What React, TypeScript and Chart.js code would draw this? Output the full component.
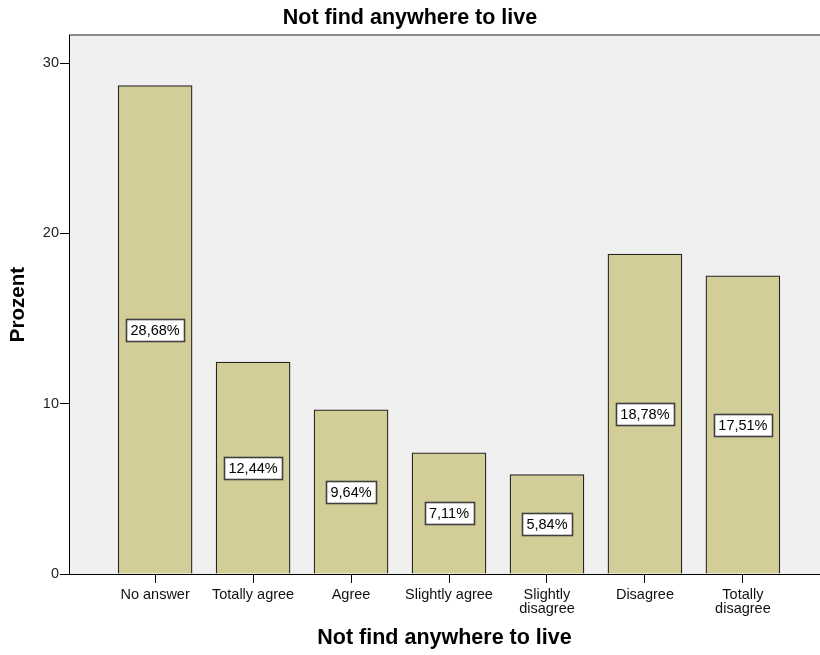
import React, { useEffect, useRef } from 'react';
import { Chart, registerables } from 'chart.js';

Chart.register(...registerables);

const chartTitle = 'Not find anywhere to live';
const xAxisTitle = 'Not find anywhere to live';
const yAxisTitle = 'Prozent';
const categories: string[][] = [
  ['No answer'],
  ['Totally agree'],
  ['Agree'],
  ['Slightly agree'],
  ['Slightly', 'disagree'],
  ['Disagree'],
  ['Totally', 'disagree'],
];
const percentValues = [28.68, 12.44, 9.64, 7.11, 5.84, 18.78, 17.51];
const valueLabels = ['28,68%', '12,44%', '9,64%', '7,11%', '5,84%', '18,78%', '17,51%'];
const yTickValues = [0, 10, 20, 30];

const FONT = '"Liberation Sans", Arial, sans-serif';

const plotBackground = {
  id: 'plotBackground',
  beforeDraw(chart: any) {
    const { ctx, chartArea: a } = chart;
    ctx.save();
    ctx.fillStyle = '#F0F0F0';
    ctx.fillRect(a.left, a.top, a.right - a.left, a.bottom - a.top);
    ctx.strokeStyle = '#8c8c8c';
    ctx.lineWidth = 2;
    ctx.beginPath();
    ctx.moveTo(a.left, a.top);
    ctx.lineTo(a.right, a.top);
    ctx.stroke();
    ctx.restore();
  },
};

const boxedLabels = {
  id: 'boxedLabels',
  afterDatasetsDraw(chart: any) {
    const { ctx } = chart;
    const meta = chart.getDatasetMeta(0);
    ctx.save();
    ctx.font = `14.5px ${FONT}`;
    ctx.textAlign = 'center';
    ctx.textBaseline = 'middle';
    meta.data.forEach((el: any, i: number) => {
      const { x, y, base } = el.getProps(['x', 'y', 'base'], true);
      const cy = (y + base) / 2;
      const text = valueLabels[i];
      const w = Math.round(ctx.measureText(text).width + 9);
      const h = 22;
      const left = Math.round(x - w / 2) + 0.5;
      const top = Math.round(cy - h / 2) + 0.5;
      ctx.fillStyle = '#FFFFFF';
      ctx.fillRect(left, top, w, h);
      ctx.strokeStyle = '#404040';
      ctx.lineWidth = 1.6;
      ctx.strokeRect(left, top, w, h);
      ctx.fillStyle = '#000000';
      ctx.fillText(text, x, top + h / 2 + 0.5);
    });
    ctx.restore();
  },
};

export default function App() {
  const canvasRef = useRef<HTMLCanvasElement | null>(null);

  useEffect(() => {
    document.body.style.margin = '0';
    const canvas = canvasRef.current;
    if (!canvas) return;
    const chart = new Chart(canvas, {
      type: 'bar',
      data: {
        datasets: [
          {
            data: percentValues.map((v, i) => ({ x: i, y: v })),
            backgroundColor: '#D3CE97',
            borderColor: '#262626',
            borderWidth: 1.3,
            barThickness: 74,
          } as any,
        ],
      },
      options: {
        responsive: false,
        animation: false,
        layout: { padding: 0 },
        plugins: {
          legend: { display: false },
          tooltip: { enabled: false },
          title: {
            display: true,
            text: chartTitle,
            color: '#000',
            font: { family: FONT, size: 21.5, weight: 'bold', lineHeight: 1.2 },
            padding: { top: 5.3, bottom: 4 },
          },
        },
        scales: {
          x: {
            type: 'linear',
            offset: false,
            min: -0.879,
            max: 6.787,
            afterBuildTicks: (axis: any) => {
              axis.ticks = categories.map((_, i) => ({ value: i }));
            },
            afterFit: (s: any) => {
              s.height = 81;
            },
            ticks: {
              autoSkip: false,
              maxRotation: 0,
              minRotation: 0,
              padding: 5,
              color: '#111',
              font: { family: FONT, size: 14.5, lineHeight: 0.97 },
              callback: (v: any) => categories[v as number] ?? '',
            },
            grid: { offset: false, drawOnChartArea: false, drawTicks: true, tickLength: 9, color: '#000' },
            border: { display: true, color: '#000', width: 1 },
            title: {
              display: true,
              text: xAxisTitle,
              color: '#000',
              font: { family: FONT, size: 21.5, weight: 'bold', lineHeight: 1.2 },
              padding: { top: 0, bottom: 4.3 },
            },
          },
          y: {
            type: 'linear',
            min: 0,
            max: 31.64,
            afterBuildTicks: (axis: any) => {
              axis.ticks = yTickValues.map((v) => ({ value: v }));
            },
            afterFit: (s: any) => {
              s.width = 69;
            },
            ticks: {
              padding: 1,
              color: '#222',
              font: { family: FONT, size: 14.5 },
            },
            grid: { drawOnChartArea: false, drawTicks: true, tickLength: 9, color: '#000' },
            border: { display: true, color: '#000', width: 1 },
            title: {
              display: true,
              text: yAxisTitle,
              color: '#000',
              font: { family: FONT, size: 20.5, weight: 'bold', lineHeight: 1.2 },
              padding: { top: 6.5, bottom: 0 },
            },
          },
        },
      } as any,
      plugins: [plotBackground, boxedLabels],
    });
    return () => chart.destroy();
  }, []);

  return (
    <div style={{ width: 820, height: 655 }}>
      <canvas ref={canvasRef} width={820} height={655} />
    </div>
  );
}
